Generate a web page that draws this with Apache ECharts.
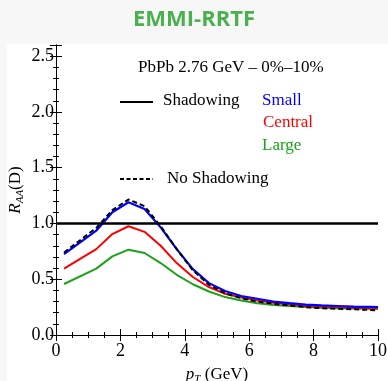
<!DOCTYPE html>
<html>
<head>
<meta charset="utf-8">
<script src="https://cdn.jsdelivr.net/npm/echarts@6/dist/echarts.min.js"></script>
<style>
  html, body { margin: 0; padding: 0; background: #f7f7f7; }
  #chart { width: 388px; height: 381px; }
</style>
</head>
<body>
<div id="chart"></div>
<script>
const ptValues = [0.25, 1.25, 1.75, 2.25, 2.75, 3.25, 3.75, 4.25, 4.75, 5.25, 5.75, 6.25, 6.75, 7.25, 7.75, 8.25, 8.75, 9.25, 9.75, 10];
const smallShadow = [0.725, 0.935, 1.10, 1.19, 1.13, 0.965, 0.77, 0.59, 0.465, 0.395, 0.35, 0.325, 0.30, 0.285, 0.272, 0.265, 0.26, 0.255, 0.252, 0.25];
const centralShadow = [0.595, 0.77, 0.905, 0.975, 0.925, 0.80, 0.645, 0.52, 0.43, 0.37, 0.335, 0.31, 0.29, 0.275, 0.26, 0.255, 0.25, 0.245, 0.24, 0.24];
const largeShadow = [0.457, 0.595, 0.705, 0.765, 0.735, 0.645, 0.54, 0.455, 0.39, 0.34, 0.31, 0.285, 0.27, 0.26, 0.25, 0.245, 0.24, 0.238, 0.235, 0.235];
const noShadow = [0.74, 0.96, 1.12, 1.215, 1.155, 0.975, 0.77, 0.58, 0.45, 0.375, 0.33, 0.30, 0.28, 0.265, 0.25, 0.24, 0.235, 0.23, 0.225, 0.22];

const serif = '"Liberation Serif", "DejaVu Serif", serif';

const chart = echarts.init(document.getElementById('chart'));

const pairs = vals => ptValues.map((x, i) => [x, vals[i]]);

const xBase = {
  type: 'value',
  min: 0,
  max: 10,
  interval: 2,
  splitLine: { show: false },
  axisLine: { lineStyle: { color: '#000', width: 1 } },
  axisTick: { inside: true, length: 6, lineStyle: { color: '#000' } },
  minorTick: { show: true, splitNumber: 4, length: 3, lineStyle: { color: '#000' } },
};
const yBase = {
  type: 'value',
  min: 0,
  max: 2.6,
  interval: 0.5,
  splitLine: { show: false },
  axisLine: { lineStyle: { color: '#000', width: 1 } },
  axisTick: { inside: true, length: 6, lineStyle: { color: '#000' } },
  minorTick: { show: true, splitNumber: 5, length: 3, lineStyle: { color: '#000' } },
};

const nameRich = {
  i: { fontSize: 17, fontStyle: 'italic', fontFamily: serif, color: '#000', lineHeight: 20 },
  s: { fontSize: 11, fontStyle: 'italic', fontFamily: serif, color: '#000', verticalAlign: 'bottom', lineHeight: 13, padding: [7, 0, 0, 0] },
  n: { fontSize: 17, fontFamily: serif, color: '#000', lineHeight: 20 },
};
const legendFont = '17px ' + serif;

const option = {
  backgroundColor: '#f7f7f7',
  animation: false,
  title: {
    text: 'EMMI-RRTF',
    left: 'center',
    top: 4,
    textStyle: { color: '#4caf50', fontSize: 22, fontWeight: 'bold', fontFamily: '"Open Sans", "Noto Sans", sans-serif' },
  },
  grid: { left: 56, right: 10, top: 45, bottom: 46, outerBoundsMode: 'none' },
  graphic: [
    { type: 'rect', z: -10, shape: { x: 7, y: 44, width: 381, height: 337 }, style: { fill: '#fff' } },
    { type: 'text', left: 138, top: 59, style: { text: 'PbPb 2.76 GeV \u2013 0%\u201310%', font: legendFont, fill: '#000' } },
    { type: 'line', shape: { x1: 120, y1: 102, x2: 153, y2: 102 }, style: { stroke: '#000', lineWidth: 1.8 } },
    { type: 'text', left: 163, top: 92, style: { text: 'Shadowing', font: legendFont, fill: '#000' } },
    { type: 'text', left: 262, top: 92, style: { text: 'Small', font: legendFont, fill: '#0000ff' } },
    { type: 'text', left: 263, top: 114, style: { text: 'Central', font: legendFont, fill: '#ff0000' } },
    { type: 'text', left: 262, top: 137, style: { text: 'Large', font: legendFont, fill: '#1aa31a' } },
    { type: 'line', shape: { x1: 120, y1: 179, x2: 153, y2: 179 }, style: { stroke: '#000', lineWidth: 1.8, lineDash: [4, 2.5] } },
    { type: 'text', left: 167, top: 170, style: { text: 'No Shadowing', font: legendFont, fill: '#000' } },
  ],
  xAxis: [
    Object.assign({}, xBase, {
      position: 'bottom',
      axisLabel: { color: '#000', fontSize: 18, fontFamily: serif, margin: 7 },
      name: '{i|p}{s|T}{n| (GeV)}',
      nameLocation: 'middle',
      nameGap: 30,
      nameMoveOverlap: false,
      nameTextStyle: { color: '#000', rich: nameRich },
    }),
    Object.assign({}, xBase, { position: 'top', axisLabel: { show: false } }),
  ],
  yAxis: [
    Object.assign({}, yBase, {
      position: 'left',
      axisLabel: { color: '#000', fontSize: 18, fontFamily: serif, margin: 2, showMaxLabel: false, formatter: v => v.toFixed(1) },
      name: '{i|R}{s|AA}{n|(D)}',
      nameLocation: 'middle',
      nameGap: 30,
      nameMoveOverlap: false,
      nameTextStyle: { color: '#000', rich: nameRich },
    }),
    Object.assign({}, yBase, { position: 'right', axisLabel: { show: false } }),
  ],
  series: [
    {
      name: 'Large',
      type: 'line',
      data: pairs(largeShadow),
      showSymbol: false,
      lineStyle: { color: '#1aa31a', width: 2 },
      markLine: {
        silent: true,
        symbol: 'none',
        label: { show: false },
        lineStyle: { color: '#000', width: 2.5, type: 'solid' },
        data: [{ yAxis: 1 }],
      },
    },
    {
      name: 'Central',
      type: 'line',
      data: pairs(centralShadow),
      showSymbol: false,
      lineStyle: { color: '#ff0000', width: 2 },
    },
    {
      name: 'Small',
      type: 'line',
      data: pairs(smallShadow),
      showSymbol: false,
      lineStyle: { color: '#0000ff', width: 2.2 },
    },
    {
      name: 'No Shadowing',
      type: 'line',
      data: pairs(noShadow),
      showSymbol: false,
      lineStyle: { color: '#000', width: 2, type: [5, 3] },
    },
  ],
};

chart.setOption(option);
</script>
</body>
</html>
